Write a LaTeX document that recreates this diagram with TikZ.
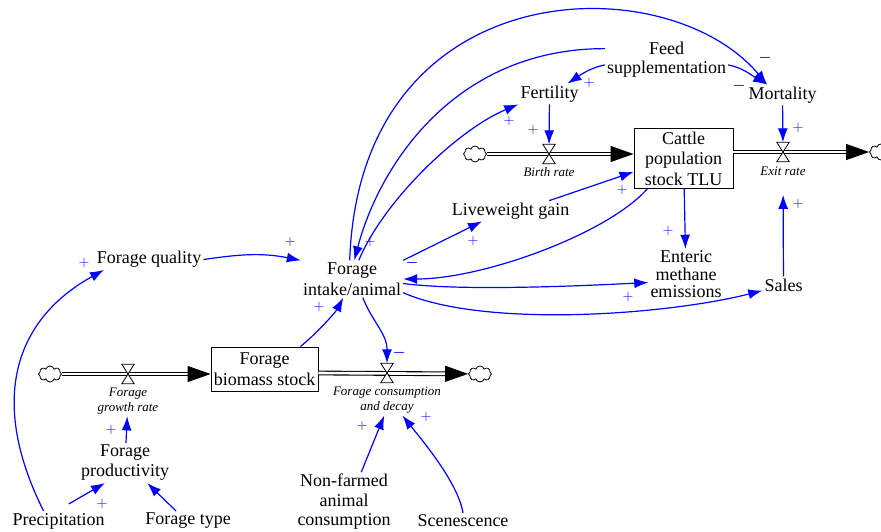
\documentclass[tikz,border=0pt]{standalone}
\usepackage{fontspec}
\setmainfont{Liberation Serif}
\usetikzlibrary{positioning,arrows.meta,shapes.symbols}

\begin{document}
\begin{tikzpicture}[x=1pt, y=-1pt, >={Latex[length=14pt,width=10pt]},
  var/.style={align=center, inner sep=2pt, font=\fontsize{18}{20}\selectfont},
  stock/.style={draw, line width=0.9pt, align=center, inner sep=1pt, font=\fontsize{18}{20.5}\selectfont},
  rate/.style={align=center, inner sep=2pt, font=\fontsize{13}{15}\selectfont\itshape},
  valve/.style={minimum width=12pt, minimum height=19pt, inner sep=0pt},
  bowtie/.style={draw, fill=white, line width=0.8pt},
  sink/.style={cloud, cloud puffs=8, draw, line width=0.8pt, minimum width=23pt, minimum height=16pt, inner sep=0pt},
  pipe/.style={draw, double, double distance=2.6pt, line width=1.1pt, -{Triangle[length=23pt,width=16pt]}},
  link/.style={draw=blue, line width=1.2pt, ->},
  sgn/.style={text=blue, inner sep=0pt, font=\fontsize{15}{15}\selectfont},
  neg/.style={sgn, font=\fontsize{15}{15}\selectfont\boldmath}]
\useasboundingbox (0,0) rectangle (881,531);

\node[stock, minimum width=99pt, minimum height=60pt] (cattle) at (683.5,158.5) {Cattle\\population\\stock TLU};
\node[stock, minimum width=107pt, minimum height=44pt] (fbs) at (264.5,369) {Forage\\biomass stock};
\node[valve] (vbr) at (549,154) {};
\node[valve] (vex) at (783,152) {};
\node[valve] (vfg) at (128,374) {};
\node[valve] (vfc) at (387,373) {};
\node[rate, below=2pt of vbr] (brl) {Birth rate};
\node[rate, below=3pt of vex] (exl) {Exit rate};
\node[rate, below=2pt of vfg] (vfgl) {Forage\\growth rate};
\node[rate, below=2pt of vfc] (vfcl) {Forage consumption\\and decay};
\node[sink] (c1) at (475,154) {};
\node[sink] (c2) at (881,152) {};
\node[sink] (c3) at (50,374) {};
\node[sink] (c4) at (480,374) {};

\draw[pipe] (c1) -- (cattle.west |- vbr);
\draw[pipe] (cattle.east |- vex) -- (c2);
\draw[pipe] (c3) -- (fbs.west |- vfg);
\draw[pipe] (fbs.east |- vfc) -- (c4);
\draw[bowtie] (vbr.north west) -- (vbr.north east) -- (vbr.south west) -- (vbr.south east) -- cycle;
\draw[bowtie] (vex.north west) -- (vex.north east) -- (vex.south west) -- (vex.south east) -- cycle;
\draw[bowtie] (vfg.north west) -- (vfg.north east) -- (vfg.south west) -- (vfg.south east) -- cycle;
\draw[bowtie] (vfc.north west) -- (vfc.north east) -- (vfc.south west) -- (vfc.south east) -- cycle;

\node[var, font=\fontsize{18}{21}\selectfont] (fi) at (352,279) {Forage\\intake/animal};
\node[var] (fq) at (149,259.5) {Forage quality};
\node[var] (lwg) at (510.5,211) {Liveweight gain};
\node[var] (fert) at (549.5,94) {Fertility};
\node[var, font=\fontsize{18}{19}\selectfont] (feed) at (666.5,59.5) {Feed\\supplementation};
\node[var] (mort) at (782.5,95) {Mortality};
\node[var, font=\fontsize{18}{17.5}\selectfont] (ent) at (686,274.5) {Enteric\\methane\\emissions};
\node[var] (sales) at (783.5,285) {Sales};
\node[var] (fp) at (125,463) {Forage\\productivity};
\node[var] (prec) at (58.5,521) {Precipitation};
\node[var] (ftype) at (188,521) {Forage type};
\node[var, font=\fontsize{18}{19.5}\selectfont] (nfa) at (344,502) {Non-farmed\\animal\\consumption};
\node[var] (scen) at (463,521) {Scenescence};

\draw[link] (fq.east) .. controls +(35,-5) and +(-40,-8) .. (fi.160);
\draw[link] (prec.146) .. controls +(-55,-110) and +(-90,50) .. (fq.193);
\draw[link] (fi.97) .. controls +(10,-290) and +(-100,-120) .. (mort.146);
\draw[link] (feed.170) .. controls +(-150,0) and +(25,-95) .. (fi.83);
\draw[link] (fi.70) .. controls +(25,-60) and +(-60,25) .. (fert.south west);
\draw[link] (feed.185) .. controls +(-15,3) and +(12,-8) .. (fert.30);
\draw[link] (feed.355) .. controls +(15,3) and +(-15,-9) .. (mort.146);
\draw[link] (fert) -- (vbr);
\draw[link] (mort) -- (vex);
\draw[link, shorten >=17pt] (sales) -- (exl);
\draw[link] (cattle) -- (ent);
\draw[link] (lwg.15) -- (cattle.195);
\draw[link] (fi.north east) -- (lwg.200);
\draw[link] (cattle.220) .. controls +(-40,45) and +(80,0) .. (fi.east);
\draw[link] (fi.355) .. controls +(60,8) and +(-60,3) .. (ent.192);
\draw[link] (fi.345) .. controls +(80,35) and +(-100,25) .. (sales.195);
\draw[link] (fbs.32) .. controls +(15,-12) and +(-8,15) .. (fi.245);
\draw[link] (fi.300) .. controls +(10,25) and +(0,-30) .. (vfc.north);
\draw[link] (fp) -- (vfgl);
\draw[link, shorten <=14pt] (prec.100) -- (fp.225);
\draw[link] (ftype.140) -- (fp.318);
\draw[link] (nfa.60) -- (vfcl.260);
\draw[link] (scen.north) .. controls +(-5,-30) and +(20,25) .. (vfcl.315);

\node[sgn] (s1) at (84,263) {$+$};
\node[sgn] (s2) at (290,242) {$+$};
\node[sgn] (s3) at (370,242) {$+$};
\node[sgn] (s4) at (509,121) {$+$};
\node[sgn] (s5) at (589,83) {$+$};
\node[neg] (s6) at (765,58) {$-$};
\node[neg] (s7) at (739,86) {$-$};
\node[sgn] (s8) at (533,130) {$+$};
\node[sgn] (s9) at (798,128) {$+$};
\node[sgn] (s10) at (798,204) {$+$};
\node[sgn] (s11) at (622,190) {$+$};
\node[sgn] (s12) at (473,241) {$+$};
\node[neg] (s13) at (412,263) {$-$};
\node[sgn] (s14) at (668,231) {$+$};
\node[sgn] (s15) at (628,297) {$+$};
\node[sgn] (s16) at (319,307) {$+$};
\node[neg] (s17) at (399,353) {$-$};
\node[sgn] (s18) at (111,430) {$+$};
\node[sgn] (s19) at (102,504) {$+$};
\node[sgn] (s20) at (362,426) {$+$};
\node[sgn] (s21) at (426,417) {$+$};
\end{tikzpicture}
\end{document}
